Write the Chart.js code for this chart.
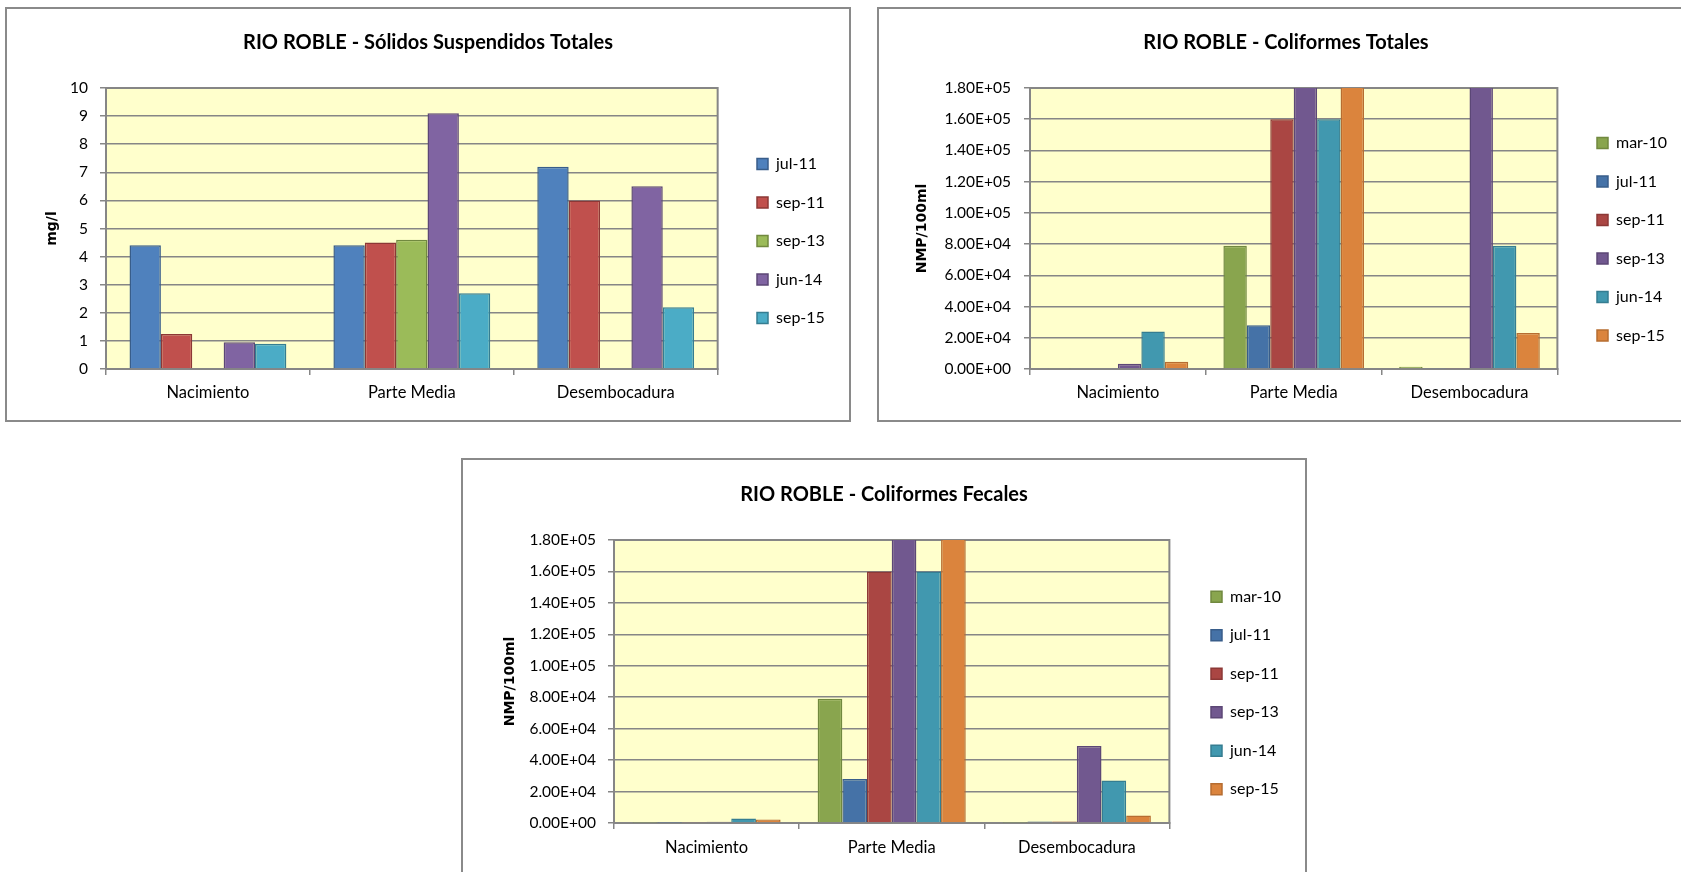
<!DOCTYPE html>
<html>
<head>
<meta charset="utf-8">
<title>Rio Roble</title>
<script src="https://cdn.jsdelivr.net/npm/chart.js@4.4.1/dist/chart.umd.min.js"></script>
<style>
  html, body { margin: 0; padding: 0; background: #fff; overflow: hidden; }
  body { width: 1681px; height: 872px; position: relative; }
  .box { position: absolute; border: 2px solid #8a8a8a; background: #fff; }
  .box canvas { display: block; }
</style>
</head>
<body>
<div class="box" style="left:5px; top:7px; width:842px; height:411px;"><canvas id="sstChart"></canvas></div>
<div class="box" style="left:877px; top:7px; width:814px; height:411px;"><canvas id="ctChart"></canvas></div>
<div class="box" style="left:461px; top:458px; width:842px; height:414px;"><canvas id="cfChart"></canvas></div>

<script>
const categories = ["Nacimiento", "Parte Media", "Desembocadura"];

// Sólidos suspendidos totales (mg/l)
const sstSeries = ["jul-11", "sep-11", "sep-13", "jun-14", "sep-15"];
const sstJul11 = [4.4, 4.4, 7.2];
const sstSep11 = [1.25, 4.5, 6.0];
const sstSep13 = [null, 4.6, null];
const sstJun14 = [0.95, 9.1, 6.5];
const sstSep15 = [0.9, 2.7, 2.2];
const sstTicks = { min: 0, max: 10, step: 1 };

// Coliformes totales (NMP/100ml)
const ctSeries = ["mar-10", "jul-11", "sep-11", "sep-13", "jun-14", "sep-15"];
const ctMar10 = [300, 79000, 1500];
const ctJul11 = [500, 28000, 700];
const ctSep11 = [500, 160000, 700];
const ctSep13 = [3300, 240000, 240000];
const ctJun14 = [24000, 160000, 79000];
const ctSep15 = [4700, 240000, 23000];

// Coliformes fecales (NMP/100ml)
const cfSeries = ["mar-10", "jul-11", "sep-11", "sep-13", "jun-14", "sep-15"];
const cfMar10 = [200, 79000, 200];
const cfJul11 = [200, 28000, 900];
const cfSep11 = [300, 160000, 900];
const cfSep13 = [800, 240000, 49000];
const cfJun14 = [2800, 160000, 27000];
const cfSep15 = [2300, 240000, 4700];
const nmpTicks = { min: 0, max: 180000, step: 20000 };

// colours
const sstFills = ["#4F81BD", "#C0504D", "#9BBB59", "#8064A2", "#4BACC6"];
const sstBorders = ["#385D8A", "#8C3836", "#71893F", "#5C4776", "#357D91"];
const nmpFills = ["#89A54E", "#4572A7", "#AA4643", "#71588F", "#4198AF", "#DB843D"];
const nmpBorders = ["#71893F", "#385D8A", "#8C3836", "#5C4776", "#357D91", "#B66D31"];

const FONT = "Lato, 'Open Sans', sans-serif";
const LEGEND_SIZE = 16;
const LEGEND_BOX = 11;
const LEGEND_PAD = 22.5;
const GRID = "#868686";

function sci(v) {
  const [m, e] = Number(v).toExponential(2).split("e");
  const sign = e[0];
  const digits = e.slice(1).padStart(2, "0");
  return m + "E" + sign + digits;
}

// yellow plot background, frame and legend placement
const chartFrame = {
  id: "chartFrame",
  beforeDraw(chart) {
    const { ctx, chartArea: a } = chart;
    ctx.save();
    ctx.fillStyle = "#FFFFCC";
    ctx.fillRect(a.left, a.top, a.right - a.left, a.bottom - a.top);
    ctx.restore();
  },
  beforeDatasetsDraw(chart) {
    const { ctx, chartArea: a } = chart;
    ctx.save();
    ctx.strokeStyle = GRID;
    ctx.lineWidth = 2;
    ctx.strokeRect(a.left, a.top, a.right - a.left, a.bottom - a.top);
    ctx.restore();
  },
  afterLayout(chart, args, opts) {
    const lg = chart.legend;
    if (!lg) return;
    const itemH = Math.max(LEGEND_SIZE, LEGEND_BOX);
    const dx = opts.legendX - (lg.left + LEGEND_PAD);
    const dy = opts.legendY - (lg.top + LEGEND_PAD + itemH / 2);
    lg.left += dx;
    lg.right += dx;
    lg.top += dy;
    lg.bottom += dy;
  }
};

function makeChart(canvasId, cfg) {
  const n = cfg.series.length;
  const side = cfg.padRight; // same on both sides so the title stays centred
  return new Chart(document.getElementById(canvasId), {
    type: "bar",
    data: {
      labels: categories,
      datasets: cfg.series.map((name, i) => ({
        label: name,
        data: cfg.values[i],
        backgroundColor: cfg.fills[i],
        borderColor: cfg.borders[i],
        borderWidth: 1.5,
        barPercentage: 1,
        categoryPercentage: n / (n + 1.5)
      }))
    },
    options: {
      responsive: true,
      maintainAspectRatio: false,
      animation: false,
      layout: { padding: { left: side, top: 0, bottom: 0, right: side } },
      plugins: {
        title: {
          display: true,
          text: cfg.title,
          color: "#000",
          font: { family: FONT, size: 20, weight: "bold" },
          padding: { top: cfg.titleTop, bottom: cfg.titleBottom }
        },
        legend: {
          position: "right",
          align: "start",
          labels: {
            color: "#000",
            font: { family: FONT, size: LEGEND_SIZE },
            boxWidth: LEGEND_BOX,
            boxHeight: LEGEND_BOX,
            padding: LEGEND_PAD
          }
        },
        tooltip: { enabled: false },
        chartFrame: { legendX: cfg.legendX, legendY: cfg.legendY }
      },
      scales: {
        x: {
          grid: { drawOnChartArea: false, drawTicks: true, tickLength: 6, color: GRID, lineWidth: 1.5 },
          border: { display: true, color: GRID, width: 2 },
          ticks: { color: "#000", font: { family: FONT, size: 16.5 }, padding: cfg.xTickPad },
          afterFit: (scale) => { scale.height = cfg.xHeight; }
        },
        y: {
          min: cfg.ticks.min,
          max: cfg.ticks.max,
          grid: { color: GRID, lineWidth: 1.5, drawTicks: true, tickLength: 6 },
          border: { display: true, color: GRID, width: 2 },
          ticks: {
            stepSize: cfg.ticks.step,
            autoSkip: false,
            color: "#000",
            font: { family: FONT, size: 15.5 },
            padding: cfg.yTickPad,
            callback: cfg.format
          },
          title: {
            display: true,
            text: cfg.yTitle,
            color: "#000",
            font: { family: "'DejaVu Sans', Verdana, sans-serif", size: 14, weight: "bold" },
            padding: { top: cfg.yTitleX - side - 8.4, bottom: 0 }
          },
          afterFit: (scale) => { scale.width = cfg.plotLeft - side; }
        }
      }
    },
    plugins: [chartFrame]
  });
}

makeChart("sstChart", {
  title: "RIO ROBLE - Sólidos Suspendidos Totales",
  yTitle: "mg/l",
  series: sstSeries,
  values: [sstJul11, sstSep11, sstSep13, sstJun14, sstSep15],
  fills: sstFills,
  borders: sstBorders,
  ticks: sstTicks,
  format: (v) => v,
  padRight: 31,
  titleTop: 22,
  titleBottom: 33,
  plotLeft: 99,
  xHeight: 51,
  yTickPad: 12,
  xTickPad: 8,
  yTitleX: 45,
  legendX: 750,
  legendY: 155
});

makeChart("ctChart", {
  title: "RIO ROBLE - Coliformes Totales",
  yTitle: "NMP/100ml",
  series: ctSeries,
  values: [ctMar10, ctJul11, ctSep11, ctSep13, ctJun14, ctSep15],
  fills: nmpFills,
  borders: nmpBorders,
  ticks: nmpTicks,
  format: sci,
  padRight: 33,
  titleTop: 22,
  titleBottom: 33,
  plotLeft: 151,
  xHeight: 51,
  yTickPad: 13,
  xTickPad: 8,
  yTitleX: 43,
  legendX: 718,
  legendY: 134
});

makeChart("cfChart", {
  title: "RIO ROBLE - Coliformes Fecales",
  yTitle: "NMP/100ml",
  series: cfSeries,
  values: [cfMar10, cfJul11, cfSep11, cfSep13, cfJun14, cfSep15],
  fills: nmpFills,
  borders: nmpBorders,
  ticks: nmpTicks,
  format: sci,
  padRight: 33,
  titleTop: 23,
  titleBottom: 33,
  plotLeft: 151,
  xHeight: 51,
  yTickPad: 12,
  xTickPad: 9,
  yTitleX: 47,
  legendX: 748,
  legendY: 136.7
});
</script>
</body>
</html>
